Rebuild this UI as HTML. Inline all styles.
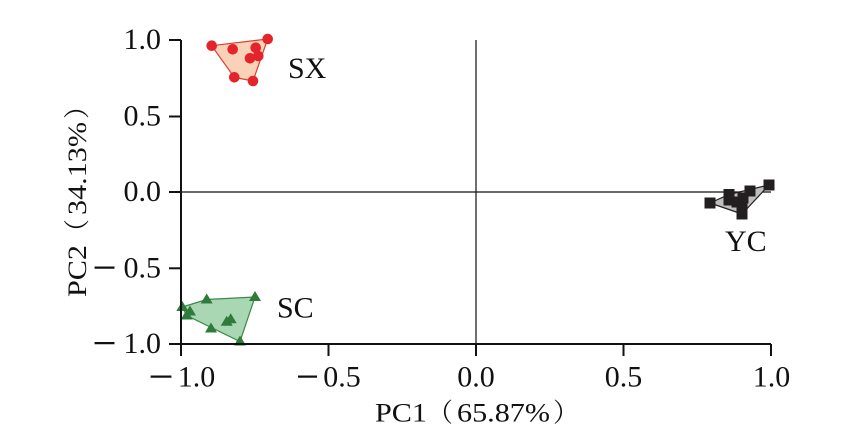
<!DOCTYPE html>
<html>
<head>
<meta charset="utf-8">
<style>
  html, body { margin:0; padding:0; background:#ffffff; }
  svg { display:block; }
  text { font-family: "Liberation Serif", "Noto Serif CJK SC", serif; fill:#111; }
</style>
</head>
<body>
<svg width="845" height="445" viewBox="0 0 845 445" xmlns="http://www.w3.org/2000/svg" font-family="'Liberation Serif', 'Noto Serif CJK SC', serif">
  <rect width="845" height="445" fill="#ffffff"/>

  <!-- crosshair lines -->
  <line x1="476" y1="40" x2="476" y2="344" stroke="#111" stroke-width="1.2"/>
  <line x1="181" y1="192" x2="771" y2="192" stroke="#111" stroke-width="1.2"/>

  <!-- hulls -->
  <polygon points="211.7,45.7 267.7,39 253,81 234.3,77.3" fill="#fbd2b8" stroke="#d8402c" stroke-width="1.2"/>
  <polygon points="182.3,307 206.7,299.5 255,297 240,341.5 186.7,315.5" fill="#a9d7b3" stroke="#3b8a4a" stroke-width="1.2"/>
  <polygon points="710,203 729,194.5 769,185 742,214" fill="#bfbfbf" stroke="#231f20" stroke-width="1.2"/>

  <!-- SX circles -->
  <g fill="#e5232a">
    <circle cx="211.7" cy="45.7" r="5.3"/>
    <circle cx="267.7" cy="39" r="5.3"/>
    <circle cx="232.7" cy="49.3" r="5.3"/>
    <circle cx="255.7" cy="47.7" r="5.3"/>
    <circle cx="250" cy="58.3" r="5.3"/>
    <circle cx="258.3" cy="56" r="5.3"/>
    <circle cx="234.3" cy="77.3" r="5.3"/>
    <circle cx="253" cy="81" r="5.3"/>
  </g>

  <!-- SC triangles -->
  <g fill="#2e7b3b">
    <polygon points="182.3,301 176.3,311 188.3,311"/>
    <polygon points="190,305.5 184,315.5 196,315.5"/>
    <polygon points="186.7,309.5 180.7,319.5 192.7,319.5"/>
    <polygon points="206.7,293.5 200.7,303.5 212.7,303.5"/>
    <polygon points="255,291 249,301 261,301"/>
    <polygon points="226.7,315.7 220.7,325.7 232.7,325.7"/>
    <polygon points="230.7,313.3 224.7,323.3 236.7,323.3"/>
    <polygon points="211,322.5 205,332.5 217,332.5"/>
    <polygon points="240,335.5 234,345.5 246,345.5"/>
  </g>

  <!-- YC squares -->
  <g fill="#231f20">
    <rect x="704.5" y="197.5" width="11" height="11"/>
    <rect x="723.5" y="189" width="11" height="11"/>
    <rect x="723.5" y="194.5" width="11" height="11"/>
    <rect x="737.5" y="192.5" width="11" height="11"/>
    <rect x="744.5" y="185.5" width="11" height="11"/>
    <rect x="763.5" y="179.5" width="11" height="11"/>
    <rect x="736.5" y="201.5" width="11" height="11"/>
    <rect x="736.5" y="208.5" width="11" height="11"/>
    <rect x="731.5" y="196.5" width="11" height="11"/>
  </g>

  <!-- group labels -->
  <text x="288" y="78" font-size="30">SX</text>
  <text x="277" y="317.5" font-size="30">SC</text>
  <text x="725" y="251" font-size="30">YC</text>

  <!-- spines -->
  <line x1="181" y1="40" x2="181" y2="356" stroke="#111" stroke-width="2"/>
  <line x1="169" y1="344" x2="771" y2="344" stroke="#111" stroke-width="2"/>

  <!-- ticks -->
  <g stroke="#111" stroke-width="2">
    <line x1="169" y1="40" x2="181" y2="40"/>
    <line x1="169" y1="116.5" x2="181" y2="116.5"/>
    <line x1="169" y1="192" x2="181" y2="192"/>
    <line x1="169" y1="268.3" x2="181" y2="268.3"/>
    <line x1="169" y1="344" x2="181" y2="344"/>
    <line x1="181" y1="344" x2="181" y2="356"/>
    <line x1="328.5" y1="344" x2="328.5" y2="356"/>
    <line x1="476" y1="344" x2="476" y2="356"/>
    <line x1="623.5" y1="344" x2="623.5" y2="356"/>
    <line x1="771" y1="344" x2="771" y2="356"/>
  </g>

  <!-- y tick labels -->
  <g font-size="30" text-anchor="end">
    <text x="161" y="49">1.0</text>
    <text x="161" y="125.5">0.5</text>
    <text x="161" y="201">0.0</text>
    <text x="161" y="277.3">0.5</text>
    <text x="161" y="353">1.0</text>
  </g>
  <text x="93" y="277.3" font-size="30" textLength="23" lengthAdjust="spacingAndGlyphs" stroke="#111" stroke-width="0.7">−</text>
  <text x="93" y="353" font-size="30" textLength="23" lengthAdjust="spacingAndGlyphs" stroke="#111" stroke-width="0.7">−</text>

  <!-- x tick labels -->
  <g font-size="30" text-anchor="middle">
    <text x="196.5" y="386.5">1.0</text>
    <text x="342" y="386.5">0.5</text>
    <text x="476" y="386.5">0.0</text>
    <text x="623.5" y="386.5">0.5</text>
    <text x="771.5" y="386.5">1.0</text>
  </g>
  <text x="149" y="386.5" font-size="30" textLength="24" lengthAdjust="spacingAndGlyphs" stroke="#111" stroke-width="0.7">−</text>
  <text x="296.5" y="386.5" font-size="30" textLength="22" lengthAdjust="spacingAndGlyphs" stroke="#111" stroke-width="0.7">−</text>

  <!-- x axis title -->
  <g font-size="26">
    <text x="375" y="421.7" textLength="52" lengthAdjust="spacingAndGlyphs">PC1</text>
    <text x="427" y="421.7" font-family="'Noto Serif CJK SC', 'Noto Sans CJK SC', serif">（</text>
    <text x="457" y="421.7" textLength="93" lengthAdjust="spacingAndGlyphs">65.87%</text>
    <text x="553" y="421.7" font-family="'Noto Serif CJK SC', 'Noto Sans CJK SC', serif">）</text>
  </g>

  <!-- y axis title -->
  <g font-size="26" transform="translate(86,297) rotate(-90)">
    <text x="0" y="0" textLength="52" lengthAdjust="spacingAndGlyphs">PC2</text>
    <text x="52" y="0" font-family="'Noto Serif CJK SC', 'Noto Sans CJK SC', serif">（</text>
    <text x="82" y="0" textLength="93" lengthAdjust="spacingAndGlyphs">34.13%</text>
    <text x="178" y="0" font-family="'Noto Serif CJK SC', 'Noto Sans CJK SC', serif">）</text>
  </g>
</svg>
</body>
</html>
